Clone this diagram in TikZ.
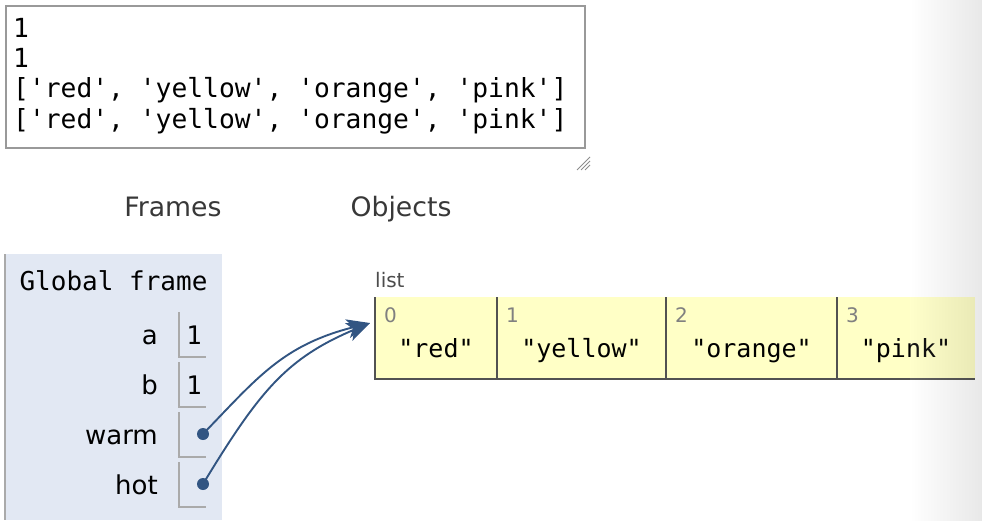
\documentclass[tikz,border=0pt]{standalone}
\usepackage{fontspec}
\setsansfont{DejaVu Sans}
\setmonofont{DejaVu Sans Mono}
\usetikzlibrary{arrows.meta,positioning}

\definecolor{framebg}{RGB}{226,232,243}
\definecolor{listbg}{RGB}{255,255,198}
\definecolor{ptrblue}{RGB}{50,85,130}
\definecolor{cellgray}{RGB}{170,170,170}

\tikzset{
  consoletext/.style={anchor=base west, inner sep=0, font=\ttfamily\fontsize{26.3}{30}\selectfont},
  heading/.style={anchor=base, inner sep=0, text=black!78, font=\sffamily\fontsize{26.7}{30}\selectfont},
  varname/.style={anchor=base east, inner sep=0, font=\sffamily\fontsize{26}{30}\selectfont},
  varvalue/.style={anchor=base, inner sep=0, font=\ttfamily\fontsize{25.5}{30}\selectfont},
  cellline/.style={draw=cellgray, line width=2pt},
  listcell/.style={rectangle, fill=listbg, inner sep=0, minimum height=82pt, anchor=north west},
  listline/.style={draw=black!68, line width=2pt},
  indexno/.style={anchor=base west, inner sep=0, text=black!50, font=\sffamily\fontsize{20}{24}\selectfont},
  itemtext/.style={anchor=base, inner sep=0, font=\ttfamily\fontsize{25}{30}\selectfont},
  ptrdot/.style={circle, fill=ptrblue, inner sep=0, minimum size=12pt},
  ptr/.style={draw=ptrblue, line width=1.9pt, -{Stealth[length=23pt,width=19pt,inset=6pt]}}
}

\begin{document}
\begin{tikzpicture}[x=1pt,y=-1pt]
  \useasboundingbox (0,0) rectangle (982,520);
  % program output
  \node[draw=black!40, line width=2pt, rectangle, minimum width=579pt, minimum height=142pt, anchor=north west] (console) at (5,5) {};
  \node[consoletext] (out1) at (13,37) {1};
  \node[consoletext] (out2) at (13,67) {1};
  \node[consoletext] (out3) at (13,97) {['red', 'yellow', 'orange', 'pink']};
  \node[consoletext] (out4) at (13,128) {['red', 'yellow', 'orange', 'pink']};
  % resize grip
  \draw[black!45, line width=1pt] (590,157) -- (577,170) (590,161) -- (581,170) (590,165) -- (585,170);

  \node[heading] (frames) at (173,216) {Frames};
  \node[heading] (objects) at (401,216) {Objects};

  % global frame
  \fill[framebg] (5,254) rectangle (222,520);
  \draw[cellgray, line width=2pt] (5,254) -- (5,520);
  \node[inner sep=0, font=\ttfamily\fontsize{26}{30}\selectfont] (gframe) at (113.5,281) {Global frame};

  \node[varname] (na) at (158,344) {a};
  \node[varname] (nb) at (158,394) {b};
  \node[varname] (nwarm) at (158,444) {warm};
  \node[varname] (nhot) at (158,494) {hot};

  \draw[cellline] (179,312) |- (206,357);
  \draw[cellline] (179,362) |- (206,407);
  \draw[cellline] (179,412) |- (206,457);
  \draw[cellline] (179,462) |- (206,507);

  \node[varvalue] (va) at (194,344) {1};
  \node[varvalue] (vb) at (194,394) {1};
  \node[ptrdot] (warmdot) at (203,434) {};
  \node[ptrdot] (hotdot) at (203,484) {};

  % list object
  \node[anchor=base west, inner sep=0, text=black!70, font=\sffamily\fontsize{20}{24}\selectfont] (listlabel) at (375,287) {list};
  \node[listcell, minimum width=122pt] (c0) at (375,297) {};
  \node[listcell, minimum width=169pt] (c1) at (497,297) {};
  \node[listcell, minimum width=171pt] (c2) at (666,297) {};
  \node[listcell, minimum width=138pt] (c3) at (837,297) {};
  \draw[listline] (c0.north west) |- (c0.south east);
  \draw[listline] (c1.north west) |- (c1.south east);
  \draw[listline] (c2.north west) |- (c2.south east);
  \draw[listline] (c3.north west) |- (c3.south east);

  \node[indexno] (i0) at (384,322) {0};
  \node[indexno] (i1) at (506,322) {1};
  \node[indexno] (i2) at (675,322) {2};
  \node[indexno] (i3) at (846,322) {3};
  \node[itemtext] (e0) at (436,357) {"red"};
  \node[itemtext] (e1) at (581.5,357) {"yellow"};
  \node[itemtext] (e2) at (751.5,357) {"orange"};
  \node[itemtext] (e3) at (906,357) {"pink"};

  \coordinate (listin) at (370,323);
  \draw[ptr] (warmdot.center) .. controls +(55,-57) and +(-87,22) .. (listin);
  \draw[ptr] (hotdot.center) .. controls +(57,-94) and +(-83,35) .. (listin);

  % page shadow on the right
  \shade[left color=white, right color=black, opacity=0.09] (910,0) rectangle (982,520);
\end{tikzpicture}
\end{document}
